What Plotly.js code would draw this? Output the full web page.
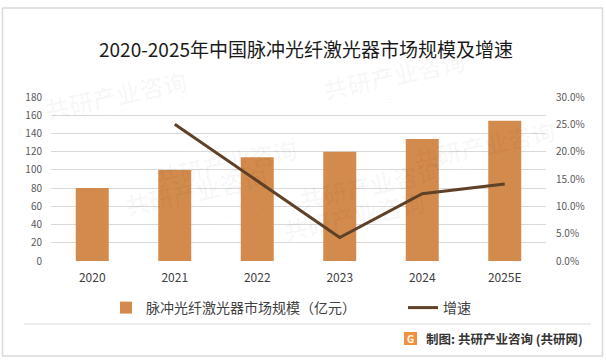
<!DOCTYPE html>
<html>
<head>
<meta charset="utf-8">
<script src="https://cdn.plot.ly/plotly-3.0.1.min.js"></script>
<style>html,body{margin:0;padding:0;background:#fff;}#chart{width:606px;height:363px;}</style>
</head>
<body>
<div id="chart"></div>
<script>
// Data
const years = ['2020', '2021', '2022', '2023', '2024', '2025E'];
const marketSize = [80, 100, 114, 120, 134, 154];            // 亿元
const growthRate = [null, 0.25, 0.146, 0.043, 0.123, 0.141]; // 增速
const barName = '脉冲光纤激光器市场规模（亿元）';
const lineName = '增速';
const chartTitle = '2020-2025年中国脉冲光纤激光器市场规模及增速';
const footerText = '制图: 共研产业咨询 (共研网)';

// plot-area geometry (px) for converting decorations to paper coords
const W = 606, H = 363, L = 51, R = 60, T = 97, B = 102;
const PW = W - L - R, PH = H - T - B;
const px = x => (x - L) / PW;
const py = y => (H - B - y) / PH;

const FONT = '"Noto Sans CJK SC", "Noto Sans", sans-serif';

const traces = [
  {
    type: 'bar', name: barName, x: years, y: marketSize,
    marker: {color: '#D38B4D'}, yaxis: 'y', hoverinfo: 'skip', legend: 'legend'
  },
  {
    type: 'scatter', mode: 'lines', name: lineName, x: years, y: growthRate,
    line: {color: '#5E4127', width: 3}, yaxis: 'y2', connectgaps: false, hoverinfo: 'skip', legend: 'legend2'
  }
];

const wm = [];
const wmSpots = [[150, 128], [370, 150], [470, 40], [560, 110], [430, 250], [120, 225], [40, 60]];
wmSpots.forEach(([x, y]) => {
  wm.push({xref: 'paper', yref: 'paper', x: px(x), y: py(y), text: '共研产业咨询', showarrow: false,
    textangle: -12, font: {family: FONT, size: 24, color: 'rgba(0,0,0,0.03)', weight: 'bold'}});
  wm.push({xref: 'paper', yref: 'paper', x: px(x + 10), y: py(y + 24), text: 'w w w . g o n y n . c o m', showarrow: false,
    textangle: -12, font: {family: FONT, size: 13, color: 'rgba(0,0,0,0.03)'}});
});

const legendFont = {family: FONT, size: 14, color: '#404040'};

const layout = {
  width: W, height: H,
  margin: {l: L, r: R, t: T, b: B, pad: 0},
  paper_bgcolor: '#ffffff', plot_bgcolor: 'rgba(0,0,0,0)',
  font: {family: FONT, color: '#595959'},
  title: {
    text: chartTitle, xref: 'container', yref: 'container',
    x: 306 / W, xanchor: 'center', y: 1 - 50.7 / H, yanchor: 'middle',
    font: {family: FONT, size: 19, color: '#1a1a1a'}
  },
  bargap: 0.6,
  showlegend: true,
  legend: {
    orientation: 'h', x: px(106), xanchor: 'left', y: py(308), yanchor: 'middle',
    font: legendFont, bgcolor: 'rgba(0,0,0,0)'
  },
  legend2: {
    orientation: 'h', x: px(403), xanchor: 'left', y: py(308), yanchor: 'middle',
    font: legendFont, bgcolor: 'rgba(0,0,0,0)'
  },
  xaxis: {
    type: 'category', showgrid: false, showline: false, zeroline: false, ticks: '',
    tickfont: {family: FONT, size: 12, color: '#404040'}, ticklabelstandoff: 8, fixedrange: true
  },
  yaxis: {
    range: [0, 180], dtick: 20, tick0: 0, showgrid: true, gridcolor: '#d9d9d9', gridwidth: 1,
    zeroline: false, showline: false, ticks: '',
    tickfont: {family: FONT, size: 10, color: '#595959'}, ticklabelstandoff: 8, fixedrange: true
  },
  yaxis2: {
    overlaying: 'y', side: 'right', range: [0, 0.3], dtick: 0.05, tick0: 0, tickformat: '.1%',
    showgrid: false, zeroline: false, showline: false, ticks: '',
    tickfont: {family: FONT, size: 10, color: '#595959'}, ticklabelstandoff: 9, fixedrange: true
  },
  shapes: [
    {type: 'rect', xref: 'paper', yref: 'paper', x0: px(2.5), x1: px(602.5), y0: py(8), y1: py(356),
      line: {color: '#d9d9d9', width: 1.5}, fillcolor: 'rgba(0,0,0,0)', layer: 'below'},
    {type: 'line', xref: 'paper', yref: 'paper', x0: px(24), x1: px(591), y0: py(324), y1: py(324),
      line: {color: '#dcdcdc', width: 1}},
    {type: 'rect', xref: 'paper', yref: 'paper', x0: px(404), x1: px(417), y0: py(332), y1: py(345),
      line: {width: 0}, fillcolor: '#F2913D'}
  ],
  annotations: wm.concat([
    {xref: 'paper', yref: 'paper', x: px(410.5), y: py(338.5), text: 'G', showarrow: false,
      xanchor: 'center', yanchor: 'middle', font: {family: FONT, size: 10, color: '#ffffff', weight: 'bold'}},
    {xref: 'paper', yref: 'paper', x: px(424), y: py(338), xanchor: 'left', yanchor: 'middle',
      text: footerText, showarrow: false,
      font: {family: FONT, size: 12.5, color: '#333333', weight: 'bold'}}
  ])
};

Plotly.newPlot('chart', traces, layout, {displayModeBar: false, staticPlot: true});
</script>
</body>
</html>
